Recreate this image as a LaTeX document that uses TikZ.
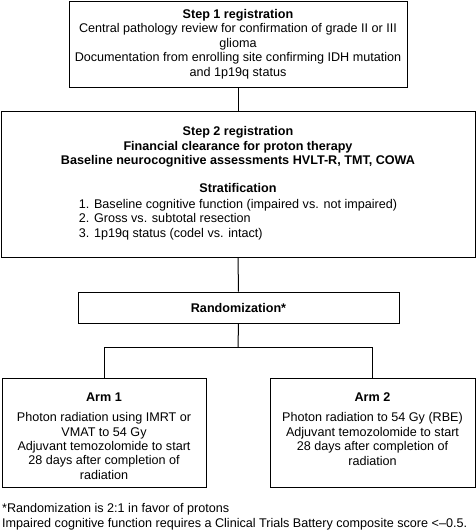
\documentclass[tikz,border=0pt]{standalone}
\usepackage{fontspec}
\setmainfont{Liberation Sans}
\begin{document}
\begin{tikzpicture}[x=1pt,y=-1pt,
  box/.style={draw,line width=1pt,align=center,inner sep=0pt,font=\fontsize{12.6}{14.4}\selectfont},
  txt/.style={align=center,inner sep=0pt,font=\fontsize{12.6}{14.4}\selectfont},
  conn/.style={line width=1pt}]
\useasboundingbox (0,0) rectangle (476,530);
\node[box,minimum width=338,minimum height=86] (b1) at (238,44)
  {\textbf{Step 1 registration}\\
   Central pathology review for confirmation of grade II or III\\
   glioma\\
   Documentation from enrolling site confirming IDH mutation\\
   and 1p19q status};
\node[box,minimum width=474,minimum height=146] (b2) at (238,184)
  {\textbf{Step 2 registration}\\
   \textbf{Financial clearance for proton therapy}\\
   \textbf{Baseline neurocognitive assessments HVLT-R, TMT, COWA}\\[13pt]
   \textbf{Stratification}\\[5pt]
   \begin{tabular}{@{}l@{}}
   1. Baseline cognitive function (impaired vs. not impaired)\\
   2. Gross vs. subtotal resection\\
   3. 1p19q status (codel vs. intact)
   \end{tabular}};
\node[box,minimum width=321,minimum height=31] (b3) at (238.5,307.5)
  {\textbf{Randomization*}};
\node[box,minimum width=204,minimum height=109] (a1) at (104,432.5) {};
\node[box,minimum width=205,minimum height=109] (a2) at (372.5,432.5) {};
\node[txt,anchor=north] (a1t) at (104,392.5)
  {\textbf{Arm 1}\\[6pt]
   Photon radiation using IMRT or\\
   VMAT to 54 Gy\\
   Adjuvant temozolomide to start\\
   28 days after completion of\\
   radiation};
\node[txt,anchor=north] (a2t) at (372.5,392.5)
  {\textbf{Arm 2}\\[6pt]
   Photon radiation to 54 Gy (RBE)\\
   Adjuvant temozolomide to start\\
   28 days after completion of\\
   radiation};
\draw[conn] (b1.south) -- (b2.north);
\draw[conn] (b2.south) -- (b3.north);
\coordinate (j) at (238,347);
\draw[conn] (b3.south) -- (j);
\draw[conn] (j) -| (a1.north);
\draw[conn] (j) -| (a2.north);
\node[anchor=north west,inner sep=0pt,align=left,font=\fontsize{12.6}{15}\selectfont] (fn) at (2,503)
  {*Randomization is 2:1 in favor of protons\\
   Impaired cognitive function requires a Clinical Trials Battery composite score <--0.5.};
\end{tikzpicture}
\end{document}
